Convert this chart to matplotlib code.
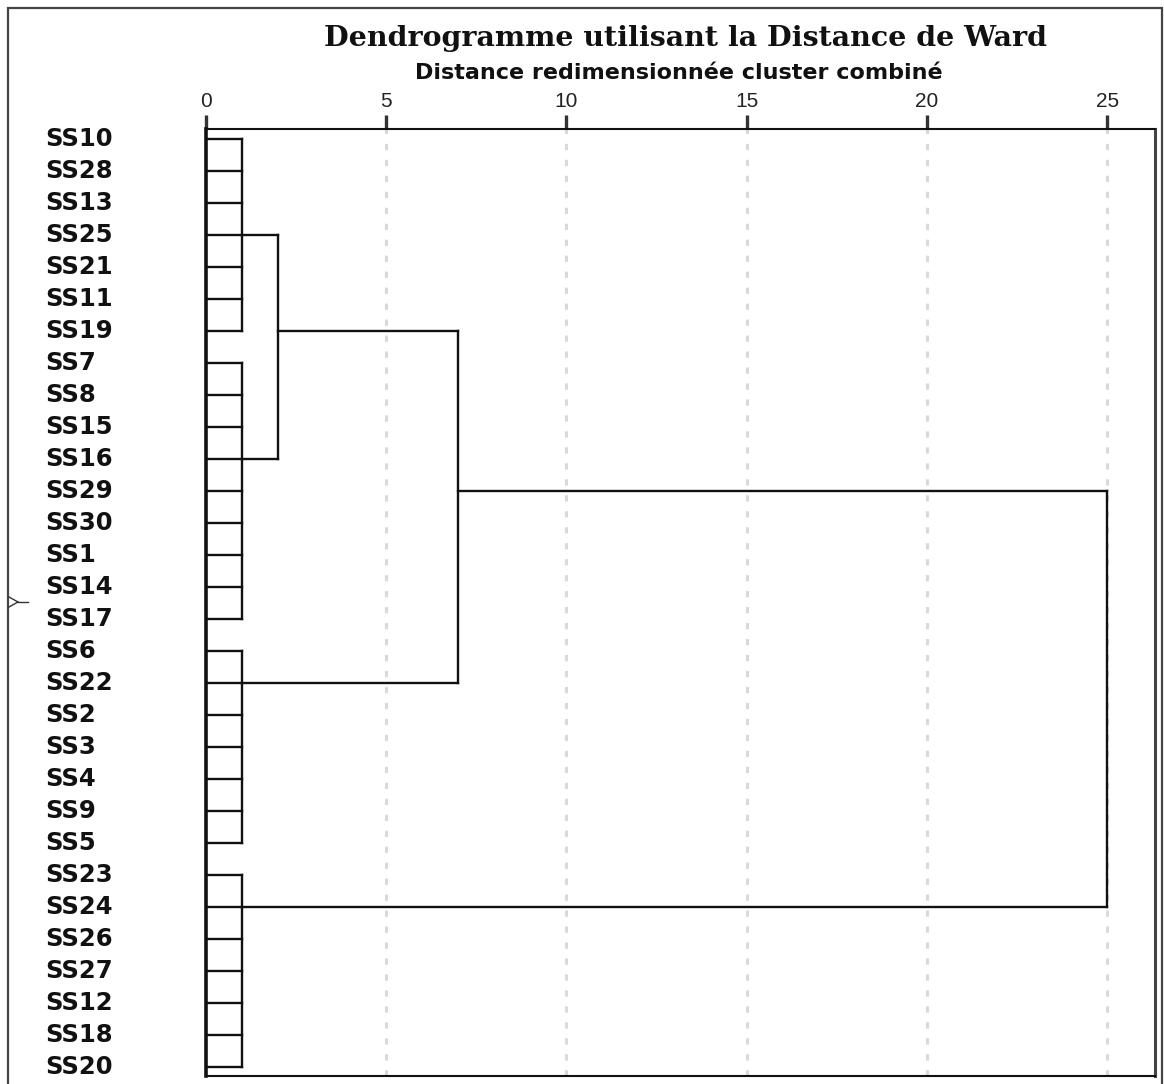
import matplotlib
matplotlib.use("Agg")
import matplotlib.pyplot as plt
from matplotlib.lines import Line2D
from matplotlib.patches import Rectangle
from matplotlib.transforms import blended_transform_factory

plt.rcParams['lines.scale_dashes'] = False

# leaf order, top to bottom
labels = ['SS10', 'SS28', 'SS13', 'SS25', 'SS21', 'SS11', 'SS19',
          'SS7', 'SS8', 'SS15', 'SS16', 'SS29', 'SS30', 'SS1', 'SS14', 'SS17',
          'SS6', 'SS22', 'SS2', 'SS3', 'SS4', 'SS9', 'SS5',
          'SS23', 'SS24', 'SS26', 'SS27', 'SS12', 'SS18', 'SS20']

# first-level clusters: leaf rows they span, rescaled joining distance,
# and the row where the cluster's link continues to the right
group_first = [0, 7, 16, 23]
group_last = [6, 15, 22, 29]
group_height = [1, 1, 1, 1]
group_row = [3, 10, 17, 24]

# upper merges, node ids: groups are 0..3, merges are 4..6
merge_left = [0, 4, 5]
merge_right = [1, 2, 3]
merge_height = [2, 7, 25]
merge_row = [6, 11, None]

x_ticks = [0, 5, 10, 15, 20, 25]

W, H, DPI = 1164, 1084, 100
fig = plt.figure(figsize=(W / DPI, H / DPI), dpi=DPI)
fig.patch.set_facecolor('white')

# plot box in pixels: left 206, right 1155, top 129, bottom 1076
ax = fig.add_axes([206 / W, 1 - 1076 / H, (1155 - 206) / W, (1076 - 129) / H])
ax.set_xlim(0, 26.33)
ax.set_ylim(29.28, -0.31)

lw = 1.7
col = '#111111'

node_height = group_height + merge_height
node_row = group_row + merge_row

# leaves joined into their first-level clusters
for g in range(len(group_first)):
    for r in range(group_first[g], group_last[g] + 1):
        ax.plot([0, group_height[g]], [r, r], color=col, lw=lw, solid_capstyle='projecting')
    ax.plot([group_height[g], group_height[g]], [group_first[g], group_last[g]],
            color=col, lw=lw, solid_capstyle='projecting')

# upper merges
for m in range(len(merge_height)):
    h = merge_height[m]
    rows = []
    for child in (merge_left[m], merge_right[m]):
        r = node_row[child]
        rows.append(r)
        ax.plot([node_height[child], h], [r, r], color=col, lw=lw, solid_capstyle='projecting')
    ax.plot([h, h], [min(rows), max(rows)], color=col, lw=lw, solid_capstyle='projecting')

# dashed guides
for t in x_ticks[1:]:
    ax.axvline(t, color='#d9d9d9', lw=2.2, dashes=(4.5, 7.0), zorder=0)

ax.xaxis.tick_top()
ax.set_xticks(x_ticks)
ax.set_xticklabels([str(t) for t in x_ticks], family='Liberation Sans', fontsize=15, color='#222222')
ax.tick_params(axis='x', length=10, width=2.4, color='#333333', pad=3)
ax.set_yticks([])
for s in ax.spines.values():
    s.set_color('#111111')
    s.set_linewidth(1.5)
ax.spines['left'].set_linewidth(2.6)
ax.spines['right'].set_color('#444444')
ax.spines['right'].set_linewidth(2.2)

# leaf names
tr = blended_transform_factory(fig.transFigure, ax.transData)
for i, name in enumerate(labels):
    fig.text(45 / W, i, name, transform=tr, ha='left', va='center',
             family='DejaVu Sans', fontweight='bold', fontsize=17.5, color='#111111')

fig.text(685 / W, 1 - 39 / H, 'Dendrogramme utilisant la Distance de Ward',
         ha='center', va='center', family='DejaVu Serif', fontweight='bold',
         fontsize=20.5, color='#111111')
fig.text(679 / W, 1 - 73 / H, 'Distance redimensionnée cluster combiné',
         ha='center', va='center', family='DejaVu Sans', fontweight='bold',
         fontsize=16, color='#111111')

# outer frame
fig.patches.append(Rectangle((8 / W, -0.05), (1162 - 8) / W, 1.05 - 8 / H,
                             transform=fig.transFigure, fill=False,
                             edgecolor='#444444', lw=1.6))

# small marker on the left frame
def px(x, y):
    return x / W, 1 - y / H

for (x0, y0), (x1, y1) in [((9, 597), (18, 602)), ((9, 607), (18, 602)), ((18, 602), (28, 602))]:
    a, b = px(x0, y0)
    c, d = px(x1, y1)
    fig.lines.append(Line2D([a, c], [b, d], transform=fig.transFigure, color='#333333', lw=1.0))

fig.savefig('out.png', dpi=DPI)
